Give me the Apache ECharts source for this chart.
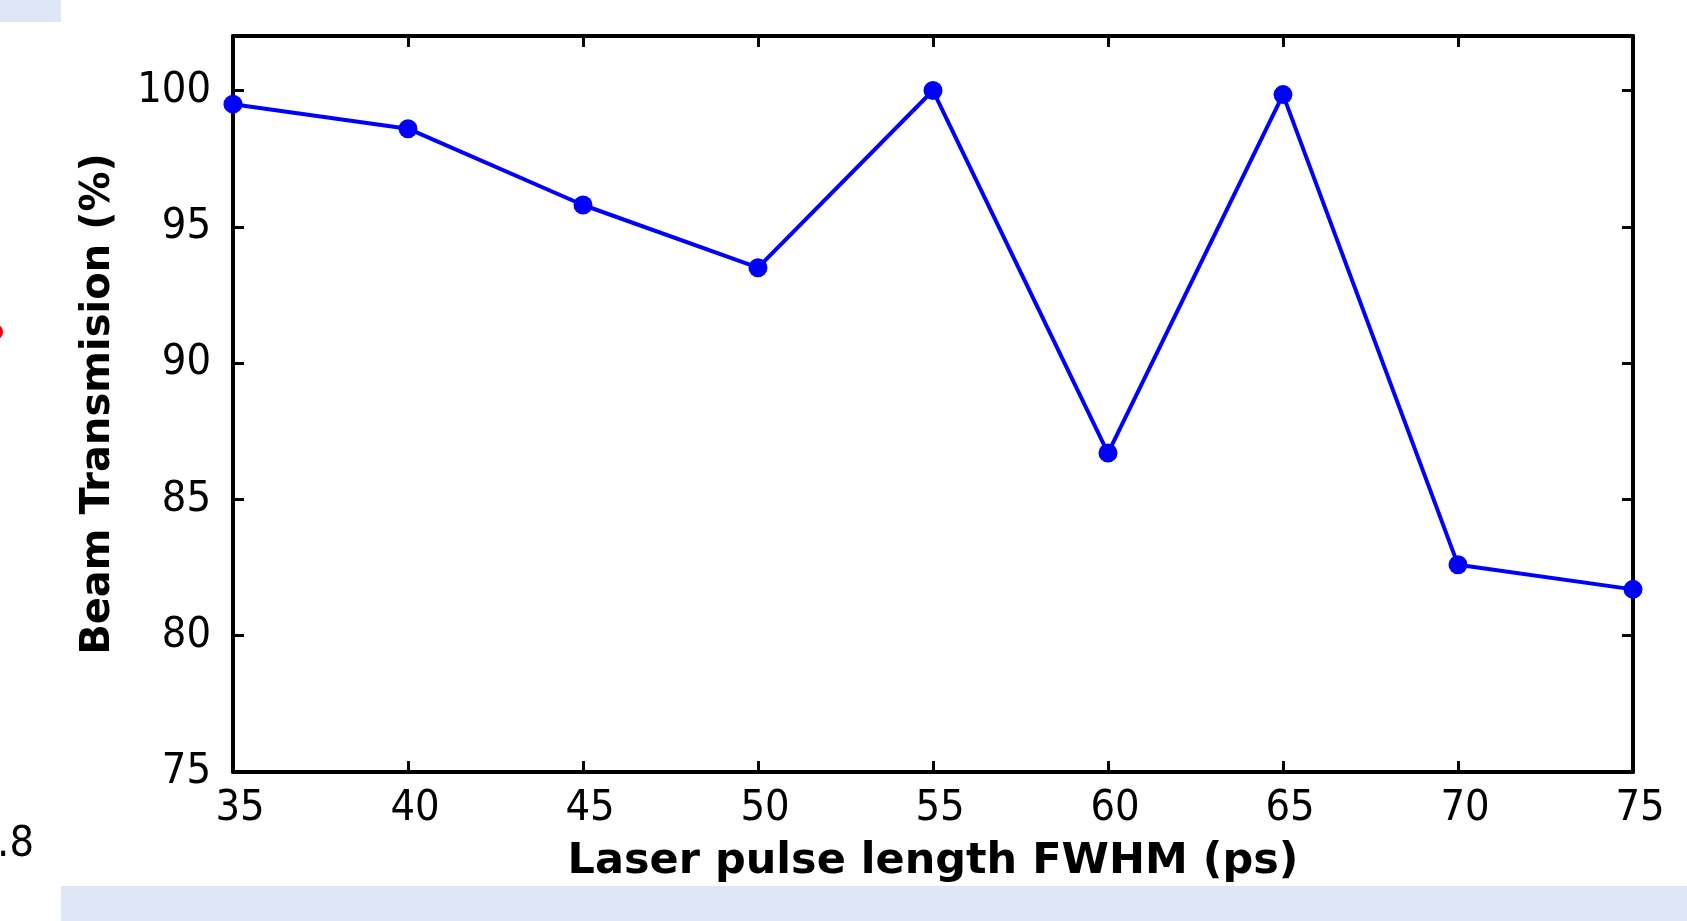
<!DOCTYPE html>
<html>
<head>
<meta charset="utf-8">
<title>Beam Transmision vs Laser pulse length</title>
<script src="https://cdn.jsdelivr.net/npm/echarts@6/dist/echarts.min.js"></script>
<style>
  html, body { margin: 0; padding: 0; background: #ffffff; }
  #chart { width: 1687px; height: 921px; }
</style>
</head>
<body>
<div id="chart"></div>
<script>
// Laser pulse length FWHM (ps)
const pulseLength = [35, 40, 45, 50, 55, 60, 65, 70, 75];
// Beam transmission (%)
const transmission = [99.5, 98.6, 95.8, 93.5, 100.0, 86.7, 99.85, 82.6, 81.7];

const xTicks = { min: 35, max: 75, step: 5 };
const yTicks = { min: 75, max: 102, step: 5 };

const xTitle = 'Laser pulse length FWHM (ps)';
const yTitle = 'Beam Transmision (%)';

const points = pulseLength.map((x, i) => [x, transmission[i]]);

const chart = echarts.init(document.getElementById('chart'), null, { renderer: 'canvas' });

const tickFont = { fontFamily: '"DejaVu Sans Condensed", "DejaVu Sans", sans-serif', fontSize: 43, color: '#000' };
const xTitleFont = { fontFamily: '"DejaVu Sans", sans-serif', fontSize: 43, fontWeight: 'bold', color: '#000' };
const yTitleFont = { fontFamily: '"DejaVu Sans", sans-serif', fontSize: 40, fontWeight: 'bold', color: '#000' };
const frameLine = { show: true, onZero: false, lineStyle: { color: '#000', width: 4 } };
const innerTick = { show: true, inside: true, length: 11, lineStyle: { color: '#000', width: 3 } };

chart.setOption({
  animation: false,
  backgroundColor: '#ffffff',
  grid: { left: 233, right: 54, top: 36, bottom: 149, containLabel: false },
  xAxis: [
    {
      type: 'value', position: 'bottom',
      min: xTicks.min, max: xTicks.max, interval: xTicks.step,
      name: xTitle, nameLocation: 'middle', nameGap: 68,
      nameTextStyle: xTitleFont,
      axisLine: frameLine, axisTick: innerTick, splitLine: { show: false },
      axisLabel: Object.assign({ margin: 15, padding: [0, 0, 0, 14] }, tickFont)
    },
    {
      type: 'value', position: 'top',
      min: xTicks.min, max: xTicks.max, interval: xTicks.step,
      axisLine: frameLine, axisTick: innerTick, splitLine: { show: false },
      axisLabel: { show: false }
    }
  ],
  yAxis: [
    {
      type: 'value', position: 'left',
      min: yTicks.min, max: yTicks.max, interval: yTicks.step,
      name: yTitle, nameLocation: 'middle', nameGap: 114,
      nameTextStyle: yTitleFont,
      axisLine: frameLine, axisTick: innerTick, splitLine: { show: false },
      axisLabel: Object.assign({
        margin: 22,
        formatter: v => (v % yTicks.step === 0 ? String(v) : '')
      }, tickFont)
    },
    {
      type: 'value', position: 'right',
      min: yTicks.min, max: yTicks.max, interval: yTicks.step,
      axisLine: frameLine, axisTick: innerTick, splitLine: { show: false },
      axisLabel: { show: false }
    }
  ],
  series: [
    {
      type: 'line',
      data: points,
      xAxisIndex: 0, yAxisIndex: 0,
      symbol: 'circle', symbolSize: 19,
      lineStyle: { color: '#0000ff', width: 4 },
      itemStyle: { color: '#0000ff' },
      clip: false,
      z: 5
    }
  ],
  graphic: [
    // neighbouring page pieces around the figure
    { type: 'rect', left: 0, top: 0, shape: { width: 61, height: 22 }, style: { fill: '#dfe6f5' }, silent: true },
    { type: 'rect', left: 61, top: 886, shape: { width: 1626, height: 35 }, style: { fill: '#dfe6f5' }, silent: true },
    { type: 'circle', shape: { cx: -5, cy: 332, r: 8 }, style: { fill: '#ff0000' }, silent: true },
    {
      type: 'text', x: 34, y: 845, silent: true,
      style: {
        text: '0.8', align: 'right', verticalAlign: 'middle',
        font: '43px "DejaVu Sans Condensed", "DejaVu Sans", sans-serif', fill: '#000'
      }
    }
  ]
});
</script>
</body>
</html>
